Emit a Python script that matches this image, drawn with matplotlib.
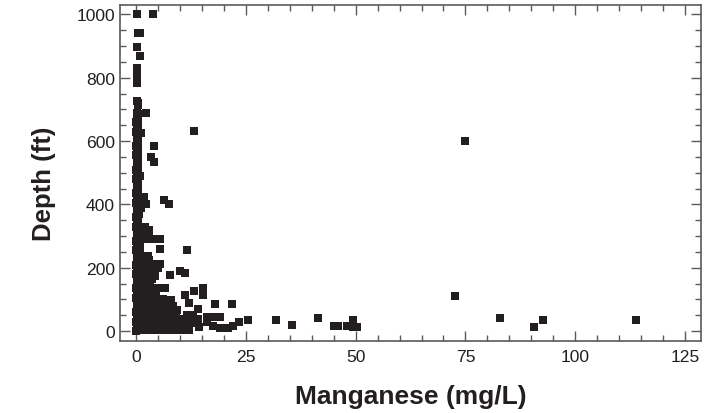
import matplotlib
matplotlib.use('Agg')
import matplotlib.pyplot as plt
from matplotlib.ticker import MultipleLocator

# scattered wells
outlier_mn = [0.1, 3.8, 0.5, 0.9, 0.1, 0.9, 0.1, 0.1, 0.1, 0.2, 0.1, 0.3, 0.5, 2.3, 13.1, 1.1, 4.0, 3.3, 4.0,
              6.2, 7.4, 1.7, 2.3, 5.3, 11.6, 10.0, 11.2, 7.6, 15.1, 15.1,
              13.1, 11.2, 8.0, 12.0, 18.0, 21.8, 8.4, 9.3, 14.0, 25.4, 23.5, 31.8, 35.5, 16.1, 17.0, 18.0, 19.0,
              16.1, 14.2, 17.5, 19.0, 21.0, 22.0, 10.0, 41.3, 45.1, 45.9, 48.0, 49.5, 49.5, 50.4, 72.6, 75.0,
              83.0, 90.6, 92.8, 113.9, 1.1, 0.8, 0.7]
outlier_depth = [1000, 1000, 942, 942, 898, 870, 830, 805, 796, 783, 727, 720, 714, 689, 631, 624, 585, 551, 533,
                 415, 400, 424, 400, 258, 255, 190, 184, 178, 135, 114,
                 126, 114, 99, 87, 84, 86, 78, 65, 69, 34, 27, 34, 18, 43, 43, 43, 43,
                 30, 13, 17, 10, 10, 17, 10, 42, 15, 15, 15, 36, 12, 12, 110, 600,
                 42, 12, 36, 35, 390, 490, 370]

# the solid column next to the y axis
column_depth = [0, 15, 30, 45, 60, 75, 90, 105, 120, 135, 150, 165, 180, 195, 210, 225, 240, 255, 270, 285,
                300, 315, 330, 345, 360, 375, 390, 405, 420, 435, 450, 465, 480, 495, 510, 525, 540, 555,
                570, 585, 600, 615, 630, 645, 660, 675, 690]
column_mn = [0.0, 0.1, 0.0, 0.1, 0.0, 0.1, 0.1, 0.0, 0.1, 0.0, 0.1, 0.1, 0.0, 0.1, 0.0, 0.1, 0.1, 0.0, 0.1, 0.0,
             0.1, 0.1, 0.0, 0.1, 0.0, 0.1, 0.1, 0.0, 0.1, 0.0, 0.1, 0.1, 0.0, 0.1, 0.0, 0.1, 0.1, 0.0,
             0.1, 0.0, 0.1, 0.1, 0.0, 0.1, 0.0, 0.1, 0.1]
column2_depth = [340, 352, 365, 378, 392, 405, 418, 432, 445, 458, 472, 485, 498, 512, 525, 538, 552, 565,
                 578, 592, 605, 618, 632, 645, 658, 672, 685]
column2_mn = [0.5, 0.4, 0.5, 0.4, 0.5, 0.4, 0.5, 0.4, 0.4, 0.5, 0.4, 0.5, 0.4, 0.4, 0.5, 0.4, 0.4, 0.5,
              0.4, 0.4, 0.5, 0.4, 0.5, 0.4, 0.4, 0.3, 0.3]

# the cloud below 340 ft, one row of readings per depth
cloud_depth = [3, 12, 25, 38, 50, 62, 75, 88, 100, 112, 125, 135, 150, 163, 175, 188,
               200, 212, 225, 237, 250, 265, 280, 292, 305, 318, 330]
cloud_mn = [
    [1.2, 2.4, 3.6, 4.8, 6.0, 7.2, 8.4, 9.6, 10.8, 12.0],
    [1.2, 2.4, 3.6, 4.8, 6.0, 7.2, 8.4, 9.6, 10.8, 12.0],
    [1.2, 2.4, 3.6, 4.8, 6.0, 7.2, 8.4, 9.6, 10.8, 12.4],
    [1.2, 2.4, 3.6, 4.8, 6.0, 7.2, 8.4, 9.6, 10.8, 12.0, 13.2, 14.0],
    [1.2, 2.4, 3.6, 4.8, 6.0, 7.2, 8.4, 9.0, 11.5, 13.0],
    [1.2, 2.4, 3.6, 4.8, 6.0, 7.2, 8.9],
    [1.2, 2.4, 3.6, 4.8, 6.0, 7.5],
    [1.2, 2.4, 3.6, 4.8, 6.3],
    [1.2, 2.4, 3.6, 4.8, 6.0],
    [1.2, 2.4, 3.6, 4.5],
    [1.2, 2.4, 3.6, 4.0],
    [1.2, 2.4, 3.6, 4.8, 6.6],
    [1.2, 2.2, 3.2],
    [1.2, 2.4, 3.5],
    [1.2, 2.4, 3.4, 4.3],
    [1.2, 2.4, 3.4, 4.3],
    [1.2, 2.4, 3.6, 5.0],
    [1.2, 2.4, 3.6, 4.6, 5.4],
    [1.0, 3.0],
    [0.9, 2.7],
    [0.9],
    [0.9],
    [0.9],
    [1.2, 2.4, 3.4, 4.3, 5.3],
    [1.5, 2.5, 3.0],
    [1.4, 3.0],
    [1.0, 2.0],
]

mn = outlier_mn + column_mn + column2_mn
depth = outlier_depth + column_depth + column2_depth
for level, row in zip(cloud_depth, cloud_mn):
    mn += row
    depth += [level] * len(row)

ink = '#231f20'
axis_grey = '#5a5a5c'

plt.rcParams['font.family'] = ['Liberation Sans', 'DejaVu Sans']

fig = plt.figure(figsize=(7.22, 4.14), dpi=100)
ax = fig.add_axes([120.5 / 722, 1 - 342 / 414, 580.5 / 722, 336.5 / 414])

ax.scatter(mn, depth, marker='s', s=27, color=ink, linewidths=0, zorder=3, clip_on=False)

ax.set_xlim(-3.6, 128.7)
ax.set_ylim(-31.5, 1031.5)

ax.xaxis.set_major_locator(MultipleLocator(25))
ax.xaxis.set_minor_locator(MultipleLocator(5))
ax.yaxis.set_major_locator(MultipleLocator(200))
ax.yaxis.set_minor_locator(MultipleLocator(50))

ax.tick_params(which='major', direction='in', length=7.5, width=1, color=axis_grey,
               top=True, right=True, labelsize=12.6, labelcolor=ink, pad=4)
ax.tick_params(axis='x', which='major', pad=6)
ax.tick_params(which='minor', direction='in', length=4, width=1, color=axis_grey, top=True, right=True)

for s in ax.spines.values():
    s.set_color(axis_grey)
    s.set_linewidth(1.2)

ax.set_xlabel('Manganese (mg/L)', fontsize=19, fontweight='bold', color=ink)
ax.set_ylabel('Depth (ft)', fontsize=18.5, fontweight='bold', color=ink)
ax.xaxis.set_label_coords(0.5, -0.128)
ax.yaxis.set_label_coords(-0.111, 0.4695)

fig.savefig('out.png', dpi=100)
